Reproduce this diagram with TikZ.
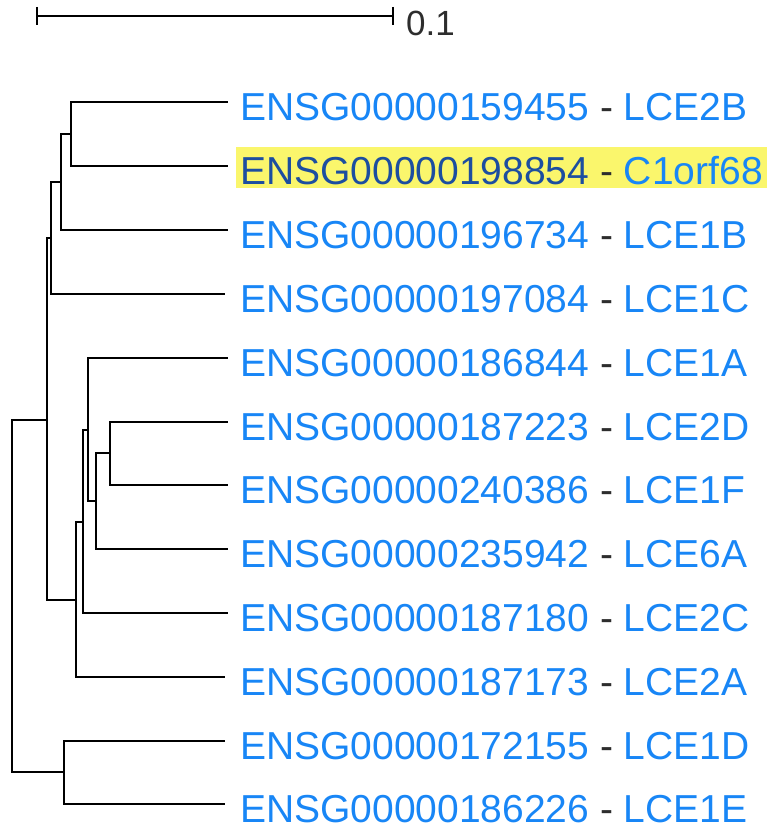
\documentclass[tikz,border=0pt]{standalone}
\usepackage{fontspec}
\setmainfont{Liberation Sans}
\usetikzlibrary{calc}
\definecolor{geneblue}{RGB}{24,134,246}
\definecolor{idblue}{RGB}{28,78,160}
\definecolor{hlyellow}{RGB}{250,246,108}
\definecolor{dashgray}{RGB}{45,45,45}
\newcommand{\genelabel}[3][geneblue]{\textcolor{#1}{#2} \textcolor{dashgray}{-} \textcolor{geneblue}{#3}}

\begin{document}
\begin{tikzpicture}[x=1pt,y=-1pt,
  branch/.style={line width=2.8pt, color=black},
  leaflabel/.style={anchor=base west, inner xsep=4pt, inner ysep=0pt, text height=37.5pt, text depth=3.5pt, font=\fontsize{39}{47}\selectfont}]
\useasboundingbox (0,0) rectangle (774,840);
% scale bar
\coordinate (sbl) at (37,16);
\coordinate (sbr) at (393,16);
\draw[branch] (sbl) -- (sbr);
\draw[branch] ($(sbl)+(0,-9)$) -- ($(sbl)+(0,9)$);
\draw[branch] ($(sbr)+(0,-9)$) -- ($(sbr)+(0,9)$);
\node[anchor=base west, inner sep=0pt, text=dashgray, font=\fontsize{35}{42}\selectfont] (sblabel) at (406,35.5) {0.1};
% leaves
\foreach \i/\xe/\ye/\ensg/\gene in {1/228/102/ENSG00000159455/LCE2B, 3/228/230/ENSG00000196734/LCE1B,
  4/225/294/ENSG00000197084/LCE1C, 5/228/358/ENSG00000186844/LCE1A, 6/228/422/ENSG00000187223/LCE2D,
  7/228/485/ENSG00000240386/LCE1F, 8/228/549/ENSG00000235942/LCE6A, 9/228/613/ENSG00000187180/LCE2C,
  10/225/677/ENSG00000187173/LCE2A, 11/225/741/ENSG00000172155/LCE1D, 12/225/804/ENSG00000186226/LCE1E} {
  \coordinate (l\i) at (\xe,\ye);
  \node[leaflabel] (t\i) at (236,{\ye+18.5}) {\genelabel{\ensg}{\gene}};
}
\coordinate (l2) at (228,166);
\node[leaflabel, fill=hlyellow] (t2) at (236,184.5) {\genelabel[idblue]{ENSG00000198854}{C1orf68}};
% inner nodes
\coordinate (nA) at (71,134);
\coordinate (nB) at (61,182);
\coordinate (nC) at (51,238);
\coordinate (nH) at (110,453);
\coordinate (nG) at (96,501);
\coordinate (nF) at (88,430);
\coordinate (nE2) at (83,522);
\coordinate (nE) at (76,600);
\coordinate (nD) at (47,420);
\coordinate (nI) at (64,772);
\coordinate (root) at (12,596);
% branches
\draw[branch] (nA) |- (l1);
\draw[branch] (nA) |- (l2);
\draw[branch] (nB) |- (nA);
\draw[branch] (nB) |- (l3);
\draw[branch] (nC) |- (nB);
\draw[branch] (nC) |- (l4);
\draw[branch] (nH) |- (l6);
\draw[branch] (nH) |- (l7);
\draw[branch] (nG) |- (nH);
\draw[branch] (nG) |- (l8);
\draw[branch] (nF) |- (l5);
\draw[branch] (nF) |- (nG);
\draw[branch] (nE2) |- (nF);
\draw[branch] (nE2) |- (l9);
\draw[branch] (nE) |- (nE2);
\draw[branch] (nE) |- (l10);
\draw[branch] (nD) |- (nC);
\draw[branch] (nD) |- (nE);
\draw[branch] (nI) |- (l11);
\draw[branch] (nI) |- (l12);
\draw[branch] (root) |- (nD);
\draw[branch] (root) |- (nI);
\end{tikzpicture}
\end{document}
